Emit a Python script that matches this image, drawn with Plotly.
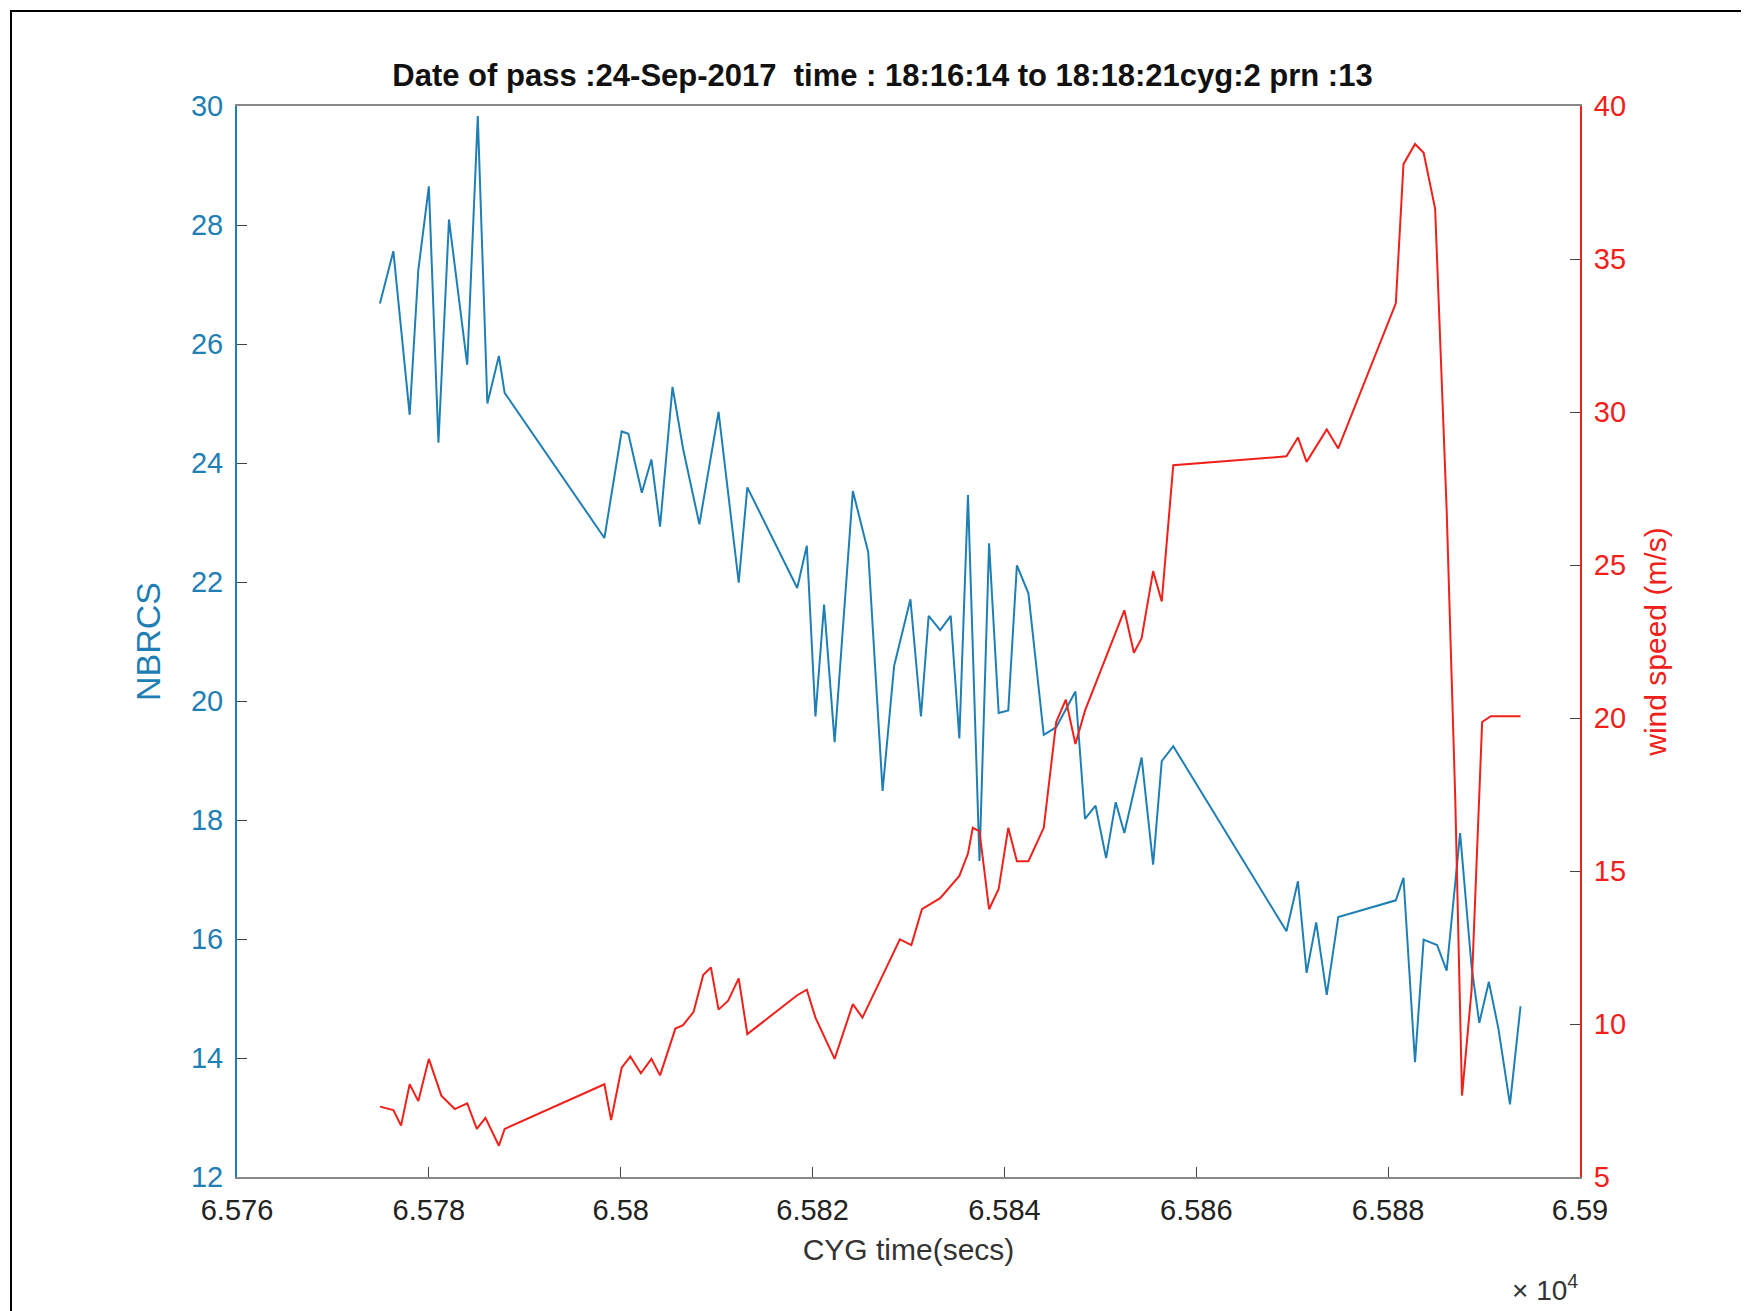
import plotly.graph_objects as go

t_nbrcs = [6.57749,6.57763,6.57780,6.57789,6.57800,6.57810,6.57821,6.57840,6.57851,6.57861,6.57873,6.57879,
 6.57983,6.58001,6.58008,6.58022,6.58032,6.58041,6.58054,6.58065,6.58082,6.58102,6.58123,6.58132,
 6.58184,6.58194,6.58203,6.58212,6.58223,6.58242,6.58258,6.58273,6.58285,6.58302,6.58313,6.58321,
 6.58333,6.58344,6.58353,6.58362,6.58374,6.58384,6.58394,6.58404,6.58413,6.58425,6.58441,6.58454,
 6.58474,6.58484,6.58495,6.58506,6.58516,6.58525,6.58543,6.58555,6.58564,6.58576,6.58694,6.58706,
 6.58715,6.58725,6.58736,6.58748,6.58808,6.58816,6.58828,6.58837,6.58851,6.58861,6.58875,6.58887,
 6.58895,6.58905,6.58915,6.58927,6.58938]
nbrcs = [26.68,27.56,24.81,27.24,28.65,24.34,28.09,25.65,29.83,25.0,25.8,25.18,
 22.74,24.53,24.49,23.5,24.06,22.93,25.28,24.24,22.97,24.86,21.99,23.59,
 21.9,22.61,19.74,21.62,19.31,23.53,22.5,18.49,20.59,21.71,19.74,21.43,
 21.19,21.43,19.37,23.46,17.31,22.65,19.8,19.84,22.28,21.81,19.43,19.56,
 20.16,18.02,18.24,17.36,18.3,17.78,19.05,17.25,18.99,19.24,16.13,16.97,
 15.43,16.28,15.06,16.37,16.65,17.03,13.93,15.99,15.9,15.47,17.78,15.53,
 14.59,15.28,14.49,13.22,14.87]

t_wind = [6.57749,6.57763,6.57771,6.57780,6.57789,6.57800,6.57813,6.57827,6.57840,6.57850,6.57859,6.57873,6.57879,
 6.57983,6.57990,6.58001,6.58010,6.58021,6.58032,6.58041,6.58057,6.58065,6.58076,6.58086,6.58094,6.58102,6.58112,
 6.58123,6.58132,6.58184,6.58194,6.58203,6.58223,6.58242,6.58252,6.58280,6.58291,6.58303,6.58314,6.58333,6.58353,
 6.58362,6.58367,6.58374,6.58384,6.58394,6.58404,6.58413,6.58425,6.58441,6.58454,6.58464,6.58474,6.58484,6.58506,
 6.58525,6.58535,6.58543,6.58555,6.58564,6.58576,6.58694,6.58706,6.58715,6.58736,6.58748,6.58808,6.58816,6.58828,
 6.58837,6.58849,6.58861,6.58870,6.58877,6.58887,6.58898,6.58907,6.58938]
wind = [7.3,7.19,6.68,8.03,7.48,8.86,7.66,7.22,7.41,6.57,6.93,6.02,6.57,
 8.03,6.86,8.57,8.94,8.39,8.86,8.32,9.85,9.96,10.4,11.6,11.85,10.47,10.76,
 11.49,9.67,10.94,11.12,10.21,8.86,10.65,10.21,12.04,12.77,12.58,13.75,14.11,14.84,
 15.57,16.41,16.3,13.75,14.41,16.41,15.32,15.32,16.41,19.87,20.6,19.15,20.24,21.99,
 23.52,22.13,22.61,24.8,23.81,28.26,28.55,29.17,28.37,29.43,28.81,33.55,38.1,38.76,
 38.47,36.64,26.8,17.32,7.66,11.12,19.87,20.06,20.06]

x_ticks = [6.576,6.578,6.58,6.582,6.584,6.586,6.588,6.59]
x_labels = ["6.576","6.578","6.58","6.582","6.584","6.586","6.588","6.59"]

BLUE = "#1f7fb5"
RED = "#f0201a"
fnt = dict(family="Liberation Sans, Arial, sans-serif", size=27, color="#222")

fig = go.Figure()
fig.add_trace(go.Scatter(x=t_nbrcs, y=nbrcs, mode="lines", line=dict(color=BLUE, width=2), yaxis="y"))
fig.add_trace(go.Scatter(x=t_wind, y=wind, mode="lines", line=dict(color=RED, width=2), yaxis="y2"))

fig.update_layout(
    width=1749, height=1311, showlegend=False,
    paper_bgcolor="white", plot_bgcolor="white",
    margin=dict(l=229, r=177, t=98, b=142),
    font=fnt,
    title=dict(text="<b>Date of pass :24-Sep-2017  time : 18:16:14 to 18:18:21cyg:2 prn :13</b>",
               x=0.5, xanchor="center", y=0.949, yanchor="middle", font=dict(size=31, color="#111")),
    xaxis=dict(range=[6.576, 6.59], tickvals=x_ticks, ticktext=x_labels, ticks="inside", ticklen=10,
               showgrid=False, zeroline=False, showline=True, linecolor="#888", linewidth=2, mirror=True,
               ticklabelstandoff=6,
               title=dict(text="CYG time(secs)", font=dict(size=30, color="#333"), standoff=14),
               tickfont=dict(size=29, color="#222")),
    yaxis=dict(range=[12, 30], dtick=2, ticks="inside", ticklen=10, showgrid=False, zeroline=False,
               showline=True, linecolor=BLUE, linewidth=2, tickfont=dict(size=29, color=BLUE),
               ticklabelstandoff=6,
               title=dict(text="NBRCS", font=dict(size=34, color=BLUE), standoff=20)),
    yaxis2=dict(range=[5, 40], dtick=5, overlaying="y", side="right", ticks="inside", ticklen=10,
                showgrid=False, zeroline=False, showline=True, linecolor=RED, linewidth=2,
                tickfont=dict(size=29, color=RED), ticklabelstandoff=6,
                title=dict(text="wind speed (m/s)", font=dict(size=30, color=RED), standoff=20)),
    annotations=[dict(text="× 10<sup>4</sup>", x=1.0, y=-0.104, xref="paper", yref="paper",
                      xanchor="right", yanchor="middle", showarrow=False, font=dict(size=28, color="#333"))],
    shapes=[dict(type="rect", xref="paper", yref="paper", x0=-226/1343, x1=1+173/1343, y0=-138/1071, y1=1+95/1071,
                 line=dict(color="black", width=2))],
)
fig.write_html("out.html")
